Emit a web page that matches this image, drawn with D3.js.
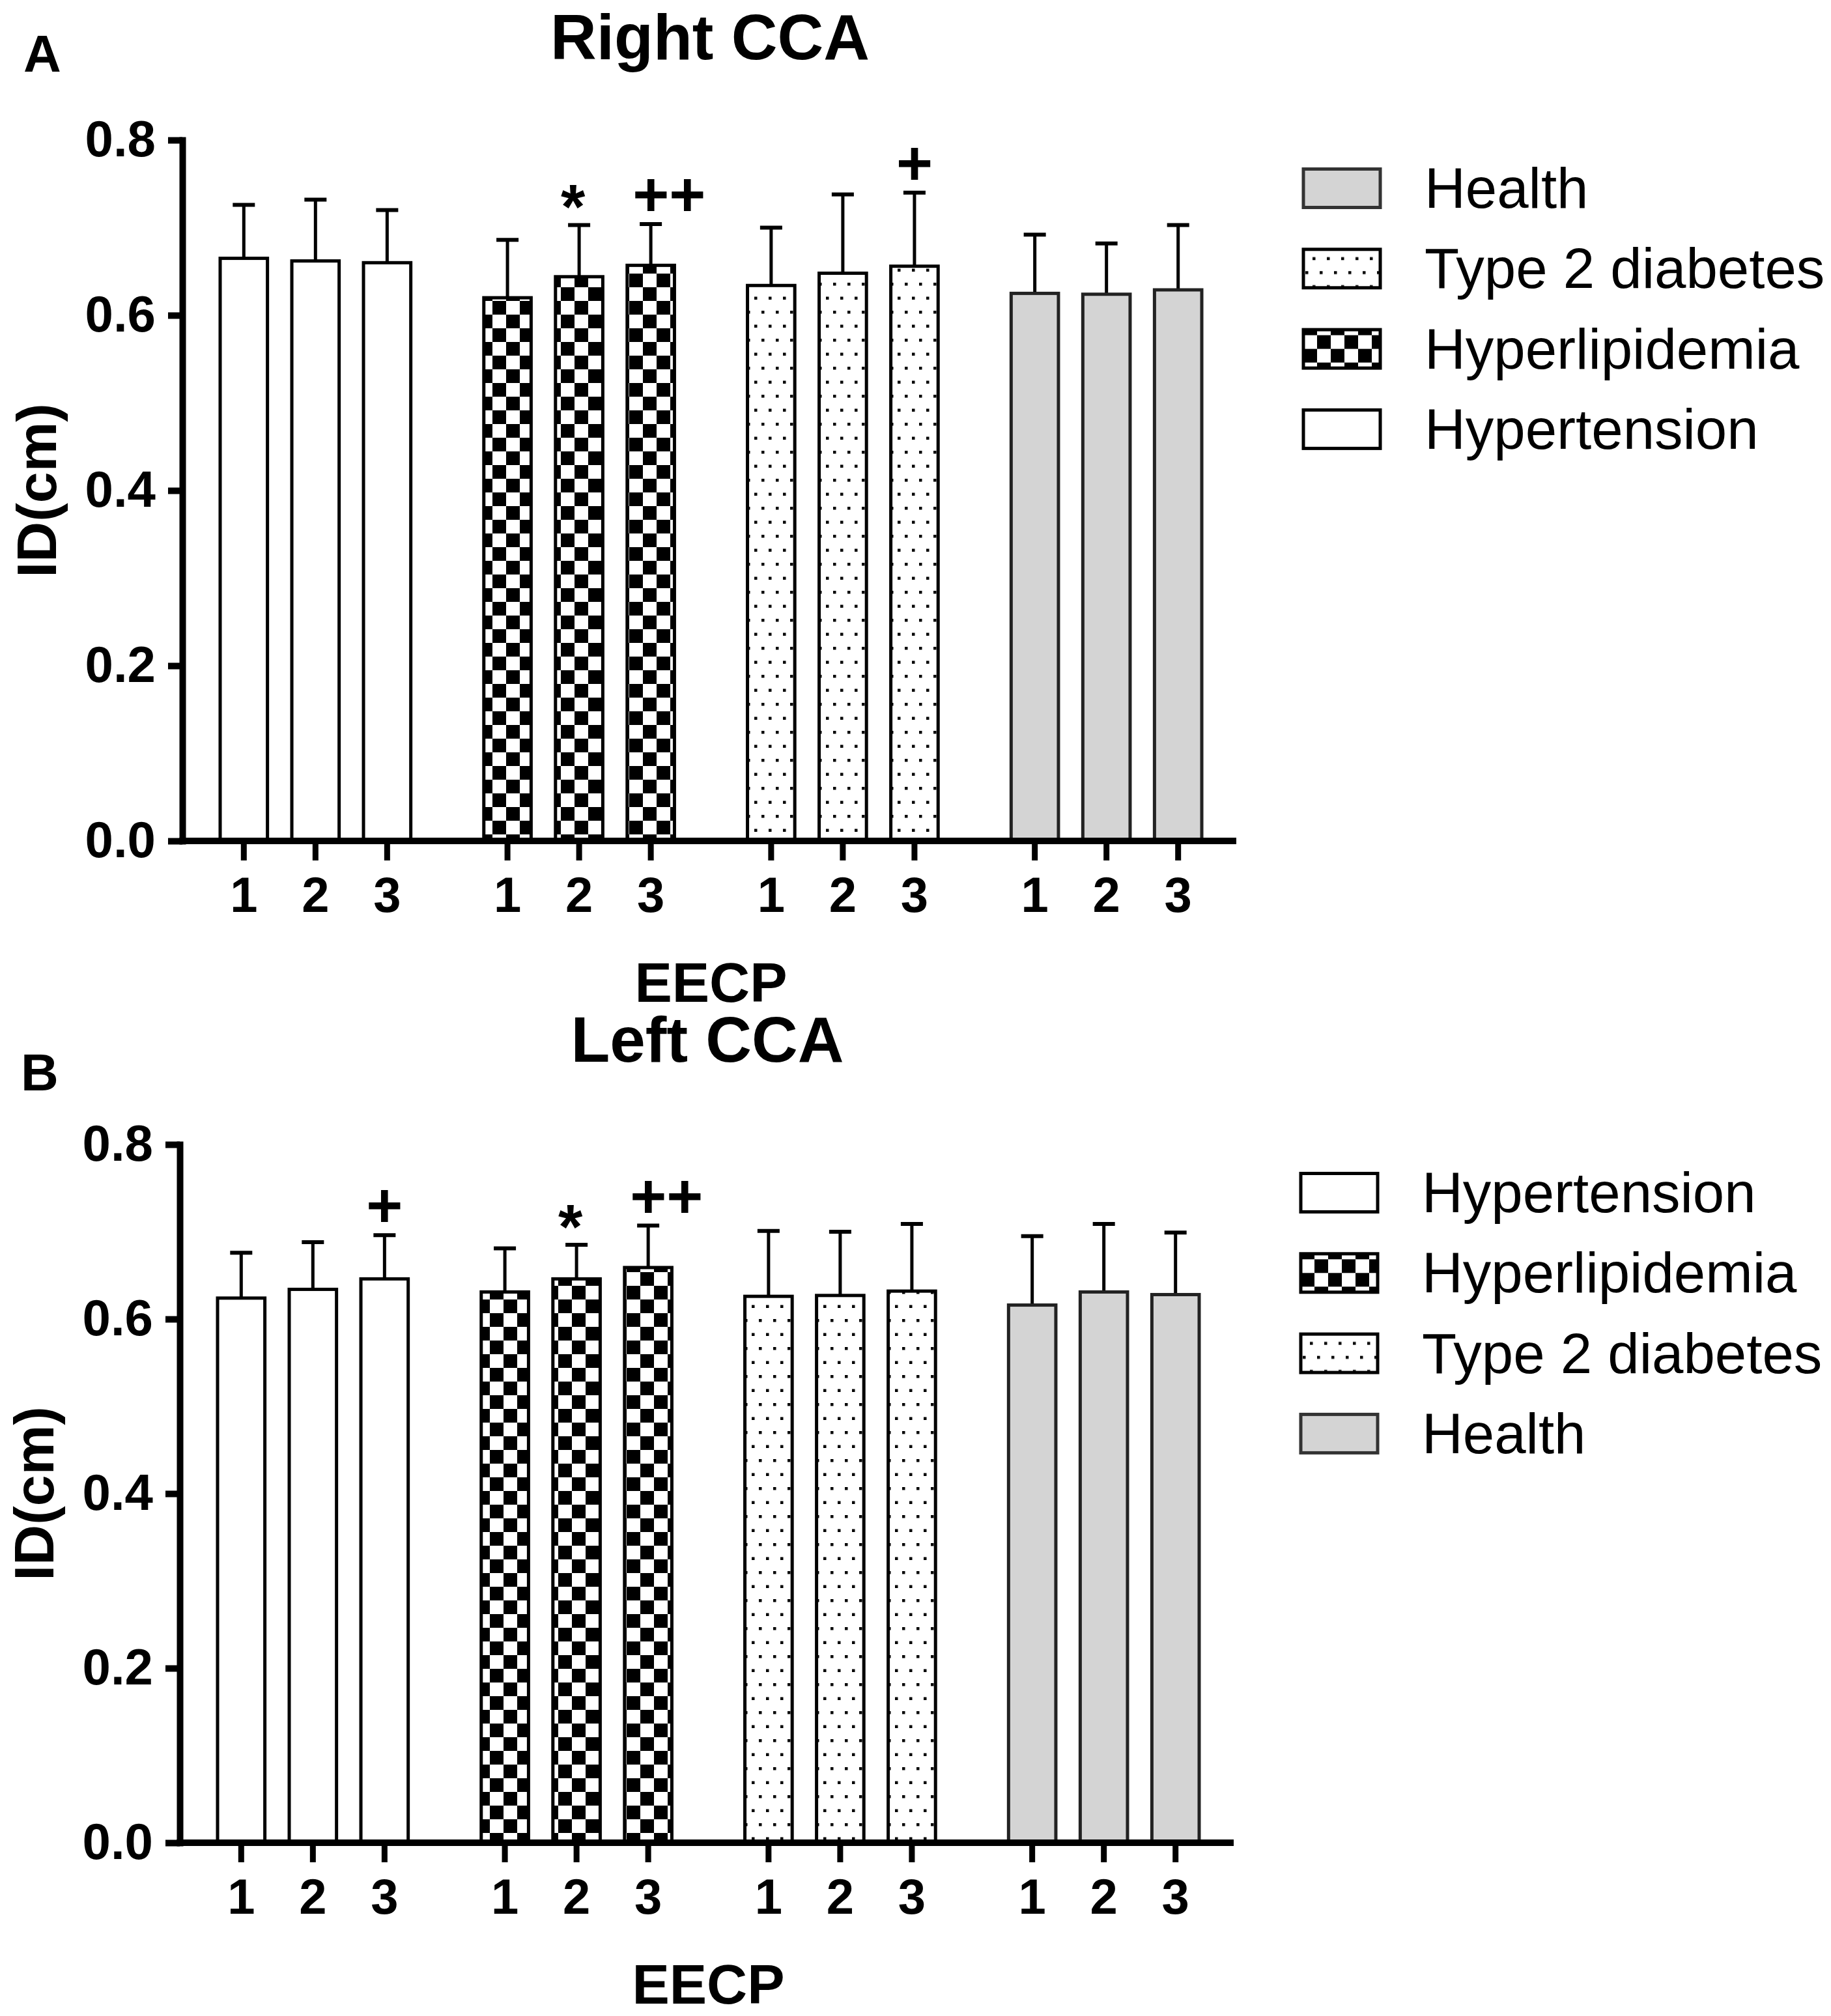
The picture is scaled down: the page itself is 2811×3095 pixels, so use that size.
<!DOCTYPE html>
<html>
<head>
<meta charset="utf-8">
<script src="https://cdn.jsdelivr.net/npm/d3@7"></script>
<style>
  body { margin: 0; background: #fff; }
</style>
</head>
<body>
<script>
'use strict';

// Data: internal diameter (cm) of the common carotid artery, EECP sessions 1-3
var groups = ['Hypertension', 'Hyperlipidemia', 'Type 2 diabetes', 'Health'];
var sessions = ['1', '2', '3'];
var yTicks = [0, 0.2, 0.4, 0.6, 0.8];

var rightMean = [
  [0.665, 0.662, 0.660],
  [0.620, 0.644, 0.657],
  [0.634, 0.648, 0.656],
  [0.625, 0.624, 0.629]
];
var rightSD = [
  [0.061, 0.070, 0.060],
  [0.066, 0.059, 0.047],
  [0.066, 0.090, 0.084],
  [0.067, 0.058, 0.074]
];
var rightMarks = [
  ['', '', ''],
  ['', '*', '++'],
  ['', '', '+'],
  ['', '', '']
];
var rightLegend = ['Health', 'Type 2 diabetes', 'Hyperlipidemia', 'Hypertension'];

var leftMean = [
  [0.624, 0.634, 0.646],
  [0.631, 0.646, 0.659],
  [0.626, 0.627, 0.632],
  [0.616, 0.631, 0.628]
];
var leftSD = [
  [0.052, 0.054, 0.050],
  [0.050, 0.039, 0.048],
  [0.075, 0.073, 0.077],
  [0.079, 0.078, 0.071]
];
var leftMarks = [
  ['', '', '+'],
  ['', '*', '++'],
  ['', '', ''],
  ['', '', '']
];
var leftLegend = ['Hypertension', 'Hyperlipidemia', 'Type 2 diabetes', 'Health'];

var FONT = '"Liberation Sans", Arial, Helvetica, sans-serif';

var fills = {
  'Hypertension': '#ffffff',
  'Hyperlipidemia': 'url(#checker)',
  'Type 2 diabetes': 'url(#dots)',
  'Health': '#d4d4d4'
};
var strokes = {
  'Hypertension': '#000',
  'Hyperlipidemia': '#000',
  'Type 2 diabetes': '#000',
  'Health': '#222'
};

var svg = d3.select('body').append('svg')
  .attr('width', 2811)
  .attr('height', 3095)
  .style('display', 'block');

// Fill patterns
var defs = svg.append('defs');
var checker = defs.append('pattern')
  .attr('id', 'checker')
  .attr('patternUnits', 'userSpaceOnUse')
  .attr('width', 42).attr('height', 42);
checker.append('rect').attr('width', 42).attr('height', 42).attr('fill', '#fff');
checker.append('rect').attr('width', 21).attr('height', 21).attr('fill', '#000');
checker.append('rect').attr('x', 21).attr('y', 21).attr('width', 21).attr('height', 21).attr('fill', '#000');

var dots = defs.append('pattern')
  .attr('id', 'dots')
  .attr('patternUnits', 'userSpaceOnUse')
  .attr('width', 22).attr('height', 43);
dots.append('rect').attr('width', 22).attr('height', 43).attr('fill', '#fff');
dots.append('rect').attr('x', 3).attr('y', 4).attr('width', 4.5).attr('height', 4.5).attr('fill', '#000');
dots.append('rect').attr('x', 14).attr('y', 25.5).attr('width', 4.5).attr('height', 4.5).attr('fill', '#000');

var panels = [
  { letter: 'A', title: 'Right CCA', mean: rightMean, sd: rightSD, marks: rightMarks, legend: rightLegend,
    top: 215, bottom: 1291, dx: 0, titleY: 91, letterY: 110 },
  { letter: 'B', title: 'Left CCA', mean: leftMean, sd: leftSD, marks: leftMarks, legend: leftLegend,
    top: 1757, bottom: 2829, dx: -4, titleY: 1630, letterY: 1674 }
];

panels.forEach(drawPanel);

function drawPanel(p) {
  var g = svg.append('g').attr('transform', 'translate(' + p.dx + ',0)');

  var y = d3.scaleLinear().domain([0, 0.8]).range([p.bottom, p.top]);
  var xGroup = d3.scaleBand().domain(groups).range([338, 1845]).paddingInner(0.277).paddingOuter(0);
  var xBar = d3.scaleBand().domain(sessions).range([0, xGroup.bandwidth()]).paddingInner(0.34).paddingOuter(0);

  var rows = [];
  groups.forEach(function(grp, i) {
    sessions.forEach(function(s, j) {
      rows.push({ group: grp, session: s, mean: p.mean[i][j], sd: p.sd[i][j], mark: p.marks[i][j] });
    });
  });
  function cx(d) { return xGroup(d.group) + xBar(d.session) + xBar.bandwidth() / 2; }

  // Panel letter and title
  g.append('text')
    .attr('x', 36).attr('y', p.letterY)
    .attr('font-family', FONT).attr('font-weight', 'bold').attr('font-size', 80)
    .text(p.letter);
  g.append('text')
    .attr('x', 1090).attr('y', p.titleY)
    .attr('text-anchor', 'middle')
    .attr('font-family', FONT).attr('font-weight', 'bold').attr('font-size', 98)
    .text(p.title);

  // Error bars
  var err = g.append('g').attr('stroke', '#000');
  err.selectAll('line.v').data(rows).join('line')
    .attr('class', 'v')
    .attr('x1', cx).attr('x2', cx)
    .attr('y1', function(d) { return y(d.mean); })
    .attr('y2', function(d) { return y(d.mean + d.sd); })
    .attr('stroke-width', 5);
  err.selectAll('line.cap').data(rows).join('line')
    .attr('class', 'cap')
    .attr('x1', function(d) { return cx(d) - 17; })
    .attr('x2', function(d) { return cx(d) + 17; })
    .attr('y1', function(d) { return y(d.mean + d.sd); })
    .attr('y2', function(d) { return y(d.mean + d.sd); })
    .attr('stroke-width', 6);

  // Bars
  g.append('g').selectAll('rect').data(rows).join('rect')
    .attr('x', function(d) { return xGroup(d.group) + xBar(d.session); })
    .attr('y', function(d) { return y(d.mean); })
    .attr('width', xBar.bandwidth())
    .attr('height', function(d) { return y(0) - y(d.mean); })
    .attr('fill', function(d) { return fills[d.group]; })
    .attr('stroke', function(d) { return strokes[d.group]; })
    .attr('stroke-width', 5);

  // Significance marks
  g.append('g').selectAll('text').data(rows.filter(function(d) { return d.mark; })).join('text')
    .attr('x', function(d) { return cx(d) - 28; })
    .attr('y', function(d) { return y(d.mean + d.sd) + (d.mark === '*' ? 5 : -12); })
    .attr('font-family', FONT).attr('font-weight', 'bold').attr('font-size', 96)
    .text(function(d) { return d.mark; });

  // Y axis
  g.append('g')
    .attr('transform', 'translate(280,0)')
    .call(d3.axisLeft(y).tickValues(yTicks).tickFormat(d3.format('.1f'))
      .tickSize(22).tickSizeOuter(0).tickPadding(19))
    .call(function(ax) {
      ax.select('.domain').attr('stroke-width', 10).attr('stroke-linecap', 'square');
      ax.selectAll('.tick line').attr('stroke-width', 10);
      ax.selectAll('.tick text')
        .attr('font-family', FONT).attr('font-weight', 'bold').attr('font-size', 78).attr('fill', '#000');
    });

  // X axis line and per-group ticks
  g.append('line')
    .attr('x1', 275).attr('x2', 1898)
    .attr('y1', y(0)).attr('y2', y(0))
    .attr('stroke', '#000').attr('stroke-width', 10);

  groups.forEach(function(grp) {
    g.append('g')
      .attr('transform', 'translate(' + xGroup(grp) + ',' + y(0) + ')')
      .call(d3.axisBottom(xBar).tickSize(30).tickSizeOuter(0).tickPadding(25))
      .call(function(ax) {
        ax.select('.domain').remove();
        ax.selectAll('.tick line').attr('stroke-width', 9);
        ax.selectAll('.tick text')
          .attr('font-family', FONT).attr('font-weight', 'bold').attr('font-size', 76).attr('fill', '#000');
      });
  });

  // Axis titles
  g.append('text')
    .attr('x', (338 + 1845) / 2).attr('y', p.bottom + 247)
    .attr('text-anchor', 'middle')
    .attr('font-family', FONT).attr('font-weight', 'bold').attr('font-size', 86)
    .text('EECP');
  g.append('text')
    .attr('transform', 'translate(86,' + (p.top + p.bottom) / 2 + ') rotate(-90)')
    .attr('text-anchor', 'middle')
    .attr('font-family', FONT).attr('font-weight', 'bold').attr('font-size', 86)
    .text('ID(cm)');

  // Legend
  var leg = g.append('g').selectAll('g').data(p.legend).join('g')
    .attr('transform', function(d, i) { return 'translate(2001,' + (p.top + 74 + i * 123.3) + ')'; });
  leg.append('rect')
    .attr('x', 0).attr('y', -29.5)
    .attr('width', 118).attr('height', 59)
    .attr('fill', function(d) { return fills[d]; })
    .attr('stroke', function(d) { return d === 'Health' ? '#333' : '#000'; })
    .attr('stroke-width', 5);
  leg.append('text')
    .attr('x', 186).attr('y', 30)
    .attr('font-family', FONT).attr('font-size', 87)
    .text(function(d) { return d; });
}
</script>
</body>
</html>
